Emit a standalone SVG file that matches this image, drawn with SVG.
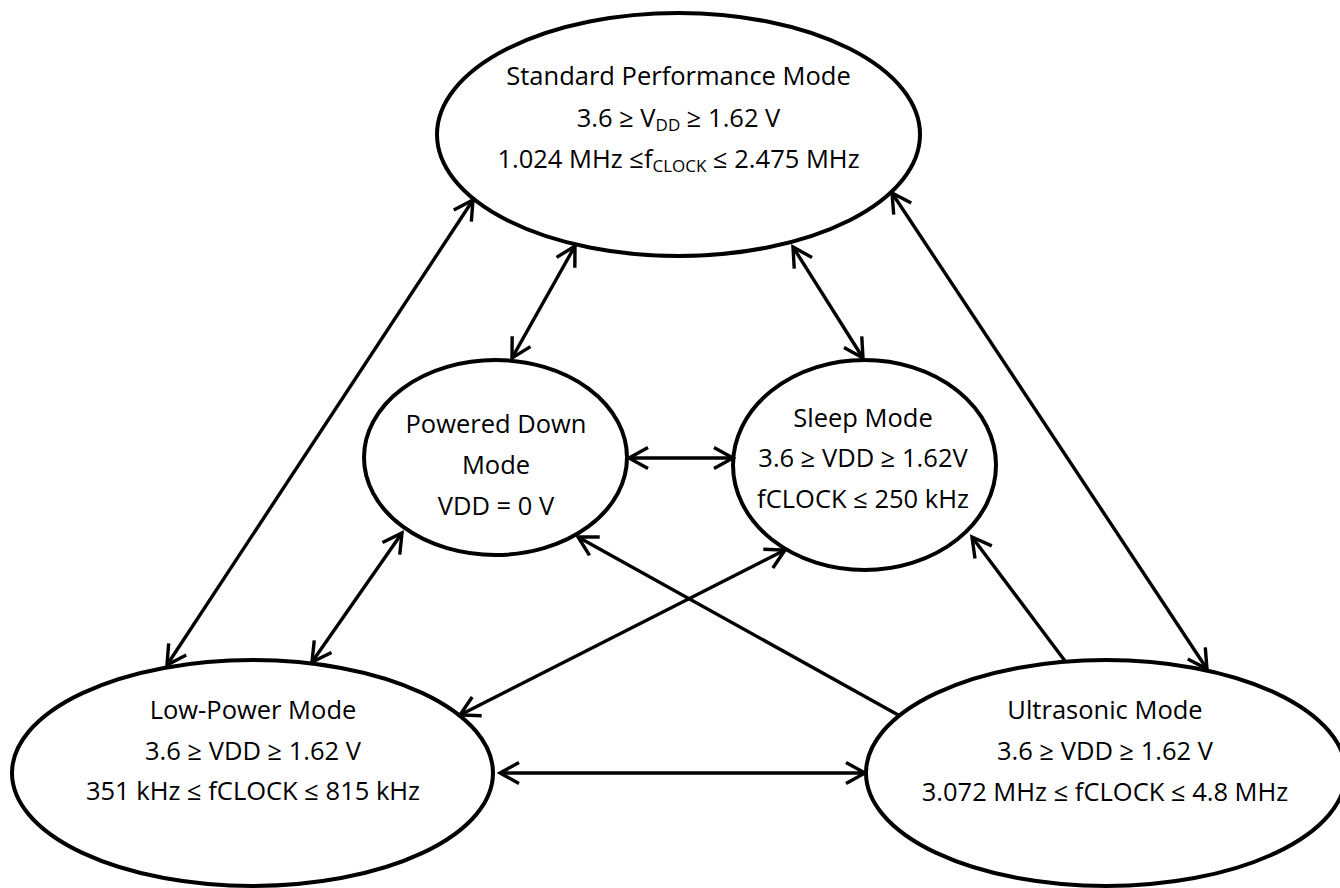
<svg xmlns="http://www.w3.org/2000/svg" width="1340" height="888" viewBox="0 0 1340 888">
<style>
.node ellipse{fill:#fff;stroke:#000;stroke-width:4}
.node text{font-family:"Open Sans","Liberation Sans",sans-serif;font-size:25.5px;fill:#000;text-anchor:middle}
.sub{font-size:17px}
#connectors line{stroke:#000;stroke-width:3.4;fill:none}
.both{marker-start:url(#ah);marker-end:url(#ah)}
.one{marker-end:url(#ah)}
</style>
<defs>
<marker id="ah" viewBox="0 0 24 24" refX="21" refY="12" markerWidth="24" markerHeight="24" markerUnits="userSpaceOnUse" orient="auto-start-reverse">
<path d="M2,1.5 L21,12 L2,22.5" fill="none" stroke="#000" stroke-width="3.4"/>
</marker>
</defs>
<rect width="1340" height="888" fill="#fff"/>
<g id="node-standard" class="node">
<ellipse cx="678.5" cy="134.5" rx="241.5" ry="121.5"/>
<text x="678.5" y="85">Standard Performance Mode</text>
<text x="678.5" y="127">3.6 ≥ V<tspan class="sub" dy="4">DD</tspan><tspan dy="-4"> ≥ 1.62 V</tspan></text>
<text x="678.5" y="168">1.024 MHz ≤f<tspan class="sub" dy="4">CLOCK</tspan><tspan dy="-4"> ≤ 2.475 MHz</tspan></text>
</g>
<g id="node-powered-down" class="node">
<ellipse cx="495.5" cy="457.5" rx="131.5" ry="97.5"/>
<text x="496" y="433">Powered Down</text>
<text x="496" y="474">Mode</text>
<text x="496" y="515">VDD = 0 V</text>
</g>
<g id="node-sleep" class="node">
<ellipse cx="864.5" cy="465" rx="131.5" ry="105"/>
<text x="863" y="427">Sleep Mode</text>
<text x="863" y="467">3.6 ≥ VDD ≥ 1.62V</text>
<text x="863" y="508">fCLOCK ≤ 250 kHz</text>
</g>
<g id="node-low-power" class="node">
<ellipse cx="252.5" cy="773" rx="240.5" ry="113"/>
<text x="253" y="719">Low-Power Mode</text>
<text x="253" y="760">3.6 ≥ VDD ≥ 1.62 V</text>
<text x="253" y="800">351 kHz ≤ fCLOCK ≤ 815 kHz</text>
</g>
<g id="node-ultrasonic" class="node">
<ellipse cx="1106" cy="773" rx="240" ry="113"/>
<text x="1105" y="719">Ultrasonic Mode</text>
<text x="1105" y="760">3.6 ≥ VDD ≥ 1.62 V</text>
<text x="1105" y="801">3.072 MHz ≤ fCLOCK ≤ 4.8 MHz</text>
</g>
<g id="connectors">
<line class="both" x1="473" y1="200" x2="167" y2="665"/>
<line class="both" x1="575" y1="246" x2="512" y2="358"/>
<line class="both" x1="793" y1="247" x2="863" y2="358"/>
<line class="both" x1="892" y1="193" x2="1207" y2="669"/>
<line class="both" x1="629" y1="458" x2="733" y2="458"/>
<line class="both" x1="402" y1="533" x2="312" y2="662"/>
<line class="both" x1="785" y1="550" x2="460" y2="715"/>
<line class="one" x1="900" y1="716" x2="578" y2="537"/>
<line class="one" x1="1065" y1="661" x2="972" y2="537"/>
<line class="both" x1="500" y1="773" x2="865" y2="773"/>
</g>
</svg>
